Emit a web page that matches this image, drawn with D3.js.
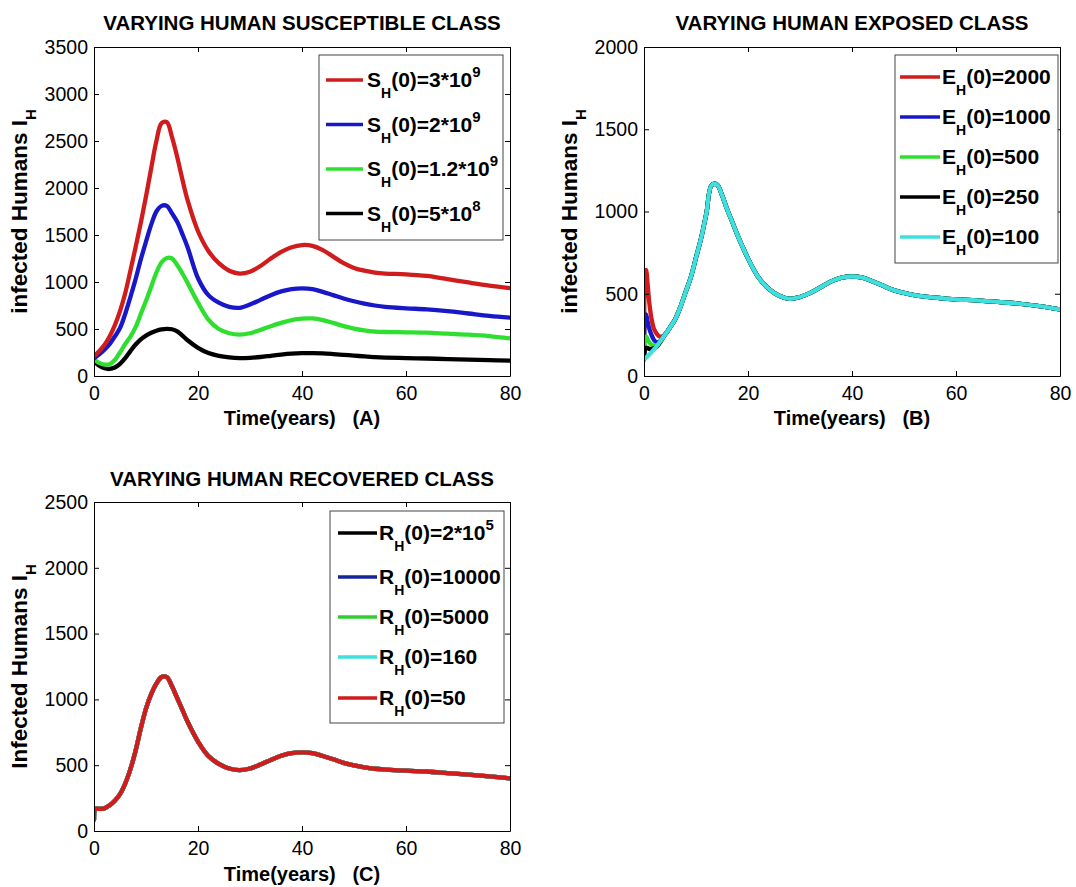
<!DOCTYPE html>
<html lang="en">
<head>
<meta charset="UTF-8">
<title>Varying human classes</title>
<script src="https://d3js.org/d3.v7.min.js"></script>
<style>
  body { margin: 0; background: #fff; }
  svg { display: block; font-family: "Liberation Sans", Arial, Helvetica, sans-serif; }
  .title { font-size: 20.5px; font-weight: bold; }
  .xlab { font-size: 20px; font-weight: bold; white-space: pre; }
  .ylab { font-size: 22.5px; font-weight: bold; }
  .leg { font-size: 21px; font-weight: bold; }
</style>
</head>
<body>
<svg id="fig" width="1076" height="887"></svg>
<script>
// ---- data ----
const xTicks = [0, 20, 40, 60, 80];
const yTicksA = [0, 500, 1000, 1500, 2000, 2500, 3000, 3500];
const yTicksB = [0, 500, 1000, 1500, 2000];
const yTicksC = [0, 500, 1000, 1500, 2000, 2500];

// (A) varying S_H(0)
const tA = [0,1,2,3,4,5,6,7,8,9,10,11,12,13,14,15,16,17,18,
            20,22,24,26,28,30,32,34,36,38,40,42,44,46,48,50,52,54,56,
            60,64,68,72,76,80];
const susRed   = [210,265,330,420,540,690,880,1120,1370,1630,1910,2210,2500,2690,2700,2540,2330,2090,1870,
                  1540,1330,1200,1120,1090,1110,1170,1250,1320,1370,1393,1385,1340,1270,1200,1150,1120,1100,1090,
                  1082,1064,1030,995,962,935];
const susBlue  = [190,230,280,340,420,510,660,840,1030,1240,1430,1610,1750,1810,1810,1730,1640,1510,1370,
                  1040,860,780,735,725,760,810,860,900,925,933,925,895,860,825,795,770,750,735,
                  720,709,690,665,640,620];
const susGreen = [175,140,122,125,170,250,340,420,520,660,800,950,1100,1210,1255,1250,1180,1090,990,
                  780,600,500,455,440,455,490,530,565,595,610,612,595,565,530,505,485,473,468,
                  465,461,450,440,425,400];
const susBlack = [155,110,82,75,90,130,190,265,335,390,430,460,482,496,502,497,475,430,380,
                  300,245,215,198,190,193,202,215,228,238,243,244,240,233,225,217,208,201,196,
                  190,186,180,174,168,163];
const susLabels = [
  {lead: "S", sub: "H", rest: "(0)=3*10", sup: "9"},
  {lead: "S", sub: "H", rest: "(0)=2*10", sup: "9"},
  {lead: "S", sub: "H", rest: "(0)=1.2*10", sup: "9"},
  {lead: "S", sub: "H", rest: "(0)=5*10", sup: "8"}
];

// (B) varying E_H(0): curves differ only in the first years, then coincide
const tBearly = [0,0.2,0.4,0.7,1,1.5,2,2.5,3,4];
const tBtail  = [5,6,7,8,9,10,11,12,13,14,15,16,17,18,
                 20,22,24,26,28,30,32,34,36,38,40,42,44,46,48,50,52,54,56,
                 60,64,68,72,76,80];
const expRedEarly   = [100,600,645,560,450,340,280,255,240,250];
const expBlueEarly  = [100,350,375,330,290,245,215,205,210,250];
const expGreenEarly = [100,225,240,225,205,190,185,185,200,250];
const expBlackEarly = [100,160,172,170,165,165,170,180,200,250];
const expCyanEarly  = [100,106,112,120,130,147,165,185,205,250];
const expTail = [295,345,420,510,600,720,840,990,1160,1165,1100,1012,935,855,
                 715,600,530,488,469,480,505,540,575,598,605,598,575,548,522,505,492,483,476,
                 465,460,450,440,425,405];
const expLabels = [
  {lead: "E", sub: "H", rest: "(0)=2000", sup: ""},
  {lead: "E", sub: "H", rest: "(0)=1000", sup: ""},
  {lead: "E", sub: "H", rest: "(0)=500", sup: ""},
  {lead: "E", sub: "H", rest: "(0)=250", sup: ""},
  {lead: "E", sub: "H", rest: "(0)=100", sup: ""}
];

// (C) varying R_H(0): all five runs lie on top of each other
const tC = [0,0.2,0.5,1,2,3,4,5,6,7,8,9,10,11,12,13,14,15,16,17,18,
            20,22,24,26,28,30,32,34,36,38,40,42,44,46,48,50,52,54,56,
            60,64,68,72,76,80];
const recVals = [85,165,170,168,172,195,230,280,360,470,610,780,930,1040,1120,1170,1170,1100,1010,920,830,
                 680,570,510,475,462,475,505,540,572,592,598,592,570,545,518,498,483,473,467,
                 458,452,440,428,415,400];
const recLabels = [
  {lead: "R", sub: "H", rest: "(0)=2*10", sup: "5"},
  {lead: "R", sub: "H", rest: "(0)=10000", sup: ""},
  {lead: "R", sub: "H", rest: "(0)=5000", sup: ""},
  {lead: "R", sub: "H", rest: "(0)=160", sup: ""},
  {lead: "R", sub: "H", rest: "(0)=50", sup: ""}
];

const RED = "#d01c1c", BLUE = "#1818c8", GREEN = "#2fdf2f", BLACK = "#000", CYAN = "#3fdfdf";

const svg = d3.select("#fig");
const line = d3.line().curve(d3.curveCatmullRom.alpha(0.5));

function zip(t, v) { return t.map((d, i) => [d, v[i]]); }

function panel(cfg) {
  const g = svg.append("g");
  const x = d3.scaleLinear().domain([0, 80]).range([cfg.x0, cfg.x1]);
  const y = d3.scaleLinear().domain([0, cfg.yTicks[cfg.yTicks.length - 1]]).range([cfg.y1, cfg.y0]);

  g.append("clipPath").attr("id", cfg.id + "clip")
    .append("rect").attr("x", cfg.x0).attr("y", cfg.y0)
    .attr("width", cfg.x1 - cfg.x0).attr("height", cfg.y1 - cfg.y0);

  // curves
  const lines = g.append("g").attr("clip-path", `url(#${cfg.id}clip)`);
  cfg.series.forEach(s => {
    lines.append("path")
      .attr("d", line.x(d => x(d[0])).y(d => y(d[1]))(s.pts))
      .attr("fill", "none").attr("stroke", s.color)
      .attr("stroke-width", 4.3).attr("stroke-linejoin", "round").attr("stroke-linecap", "round");
  });

  // axes, ticks pointing inward on all four sides
  const fmt = d3.format("d");
  const bottom = g.append("g").attr("transform", `translate(0,${cfg.y1})`)
    .call(d3.axisBottom(x).tickValues(xTicks).tickFormat(fmt).tickSizeInner(-5).tickSizeOuter(0).tickPadding(10));
  const top = g.append("g").attr("transform", `translate(0,${cfg.y0})`)
    .call(d3.axisTop(x).tickValues(xTicks).tickFormat("").tickSizeInner(-5).tickSizeOuter(0));
  const left = g.append("g").attr("transform", `translate(${cfg.x0},0)`)
    .call(d3.axisLeft(y).tickValues(cfg.yTicks).tickFormat(fmt).tickSizeInner(-5).tickSizeOuter(0).tickPadding(6));
  const right = g.append("g").attr("transform", `translate(${cfg.x1},0)`)
    .call(d3.axisRight(y).tickValues(cfg.yTicks).tickFormat("").tickSizeInner(-5).tickSizeOuter(0));
  [bottom, top, left, right].forEach(a => {
    a.attr("font-family", null).attr("font-size", null);
    a.selectAll("path, line").attr("stroke", "#000");
    a.selectAll("text").style("font-size", "19.5px").attr("fill", "#000");
  });

  // title and axis labels
  g.append("text").attr("class", "title")
    .attr("x", (cfg.x0 + cfg.x1) / 2).attr("y", cfg.titleY)
    .attr("text-anchor", "middle").text(cfg.title);
  g.append("text").attr("class", "xlab")
    .attr("x", (cfg.x0 + cfg.x1) / 2).attr("y", cfg.xlabY)
    .attr("text-anchor", "middle").text(cfg.xlab);
  const yl = g.append("text").attr("class", "ylab")
    .attr("transform", `translate(${cfg.x0 - 67},${(cfg.y0 + cfg.y1) / 2}) rotate(-90)`)
    .attr("text-anchor", "middle");
  yl.append("tspan").text(cfg.ylab);
  yl.append("tspan").attr("dy", 9).style("font-size", "15px").text("H");

  // legend
  const L = cfg.legend;
  const lg = g.append("g");
  lg.append("rect").attr("x", L.x).attr("y", L.y).attr("width", L.w).attr("height", L.h)
    .attr("fill", "#fff").attr("stroke", "#444").attr("stroke-width", 1);
  cfg.series.slice().sort((a, b) => a.legendOrder - b.legendOrder).forEach((s, i) => {
    const ry = L.rows[i];
    lg.append("line").attr("x1", L.x + L.lineStart).attr("x2", L.x + L.lineEnd)
      .attr("y1", ry).attr("y2", ry).attr("stroke", s.color).attr("stroke-width", 3.5);
    const lab = cfg.labels[i];
    const t = lg.append("text").attr("class", "leg").attr("x", L.x + L.textStart).attr("y", ry + 7);
    t.append("tspan").text(lab.lead);
    t.append("tspan").attr("dy", 11).style("font-size", "14px").text(lab.sub);
    t.append("tspan").attr("dy", -11).text(lab.rest);
    if (lab.sup) t.append("tspan").attr("dy", -10).style("font-size", "15px").text(lab.sup);
  });
}

// (A)
panel({
  id: "A", x0: 94, x1: 510, y0: 47, y1: 376, yTicks: yTicksA,
  title: "VARYING HUMAN SUSCEPTIBLE CLASS", titleY: 30,
  xlab: "Time(years)   (A)", xlabY: 425, ylab: "infected Humans I",
  series: [
    {pts: zip(tA, susBlack), color: BLACK, legendOrder: 3},
    {pts: zip(tA, susGreen), color: GREEN, legendOrder: 2},
    {pts: zip(tA, susBlue), color: BLUE, legendOrder: 1},
    {pts: zip(tA, susRed), color: RED, legendOrder: 0}
  ],
  labels: susLabels,
  legend: {x: 319, y: 55, w: 184, h: 185, rows: [80, 124.5, 169, 213.5], lineStart: 7, lineEnd: 44, textStart: 48}
});

// (B)
const tB = tBearly.concat(tBtail);
panel({
  id: "B", x0: 644, x1: 1060, y0: 47, y1: 376, yTicks: yTicksB,
  title: "VARYING HUMAN EXPOSED CLASS", titleY: 30,
  xlab: "Time(years)   (B)", xlabY: 425, ylab: "infected Humans I",
  series: [
    {pts: zip(tB, expRedEarly.concat(expTail)), color: RED, legendOrder: 0},
    {pts: zip(tB, expBlueEarly.concat(expTail)), color: BLUE, legendOrder: 1},
    {pts: zip(tB, expGreenEarly.concat(expTail)), color: GREEN, legendOrder: 2},
    {pts: zip(tB, expBlackEarly.concat(expTail)), color: BLACK, legendOrder: 3},
    {pts: zip(tB, expCyanEarly.concat(expTail)), color: CYAN, legendOrder: 4}
  ],
  labels: expLabels,
  legend: {x: 895, y: 55, w: 163, h: 208, rows: [77, 117, 157, 197, 237], lineStart: 5, lineEnd: 45, textStart: 47}
});

// (C)
panel({
  id: "C", x0: 94, x1: 510, y0: 502, y1: 831, yTicks: yTicksC,
  title: "VARYING HUMAN RECOVERED CLASS", titleY: 486,
  xlab: "Time(years)   (C)", xlabY: 881, ylab: "Infected Humans I",
  series: [
    {pts: zip(tC, recVals), color: BLACK, legendOrder: 0},
    {pts: zip(tC, recVals), color: "#16249c", legendOrder: 1},
    {pts: zip(tC, recVals), color: "#33cc33", legendOrder: 2},
    {pts: zip(tC, recVals), color: CYAN, legendOrder: 3},
    {pts: zip(tC, recVals), color: RED, legendOrder: 4}
  ],
  labels: recLabels,
  legend: {x: 330, y: 511, w: 174, h: 212, rows: [533, 577, 617, 657, 698], lineStart: 8, lineEnd: 47, textStart: 49}
});
</script>
</body>
</html>
